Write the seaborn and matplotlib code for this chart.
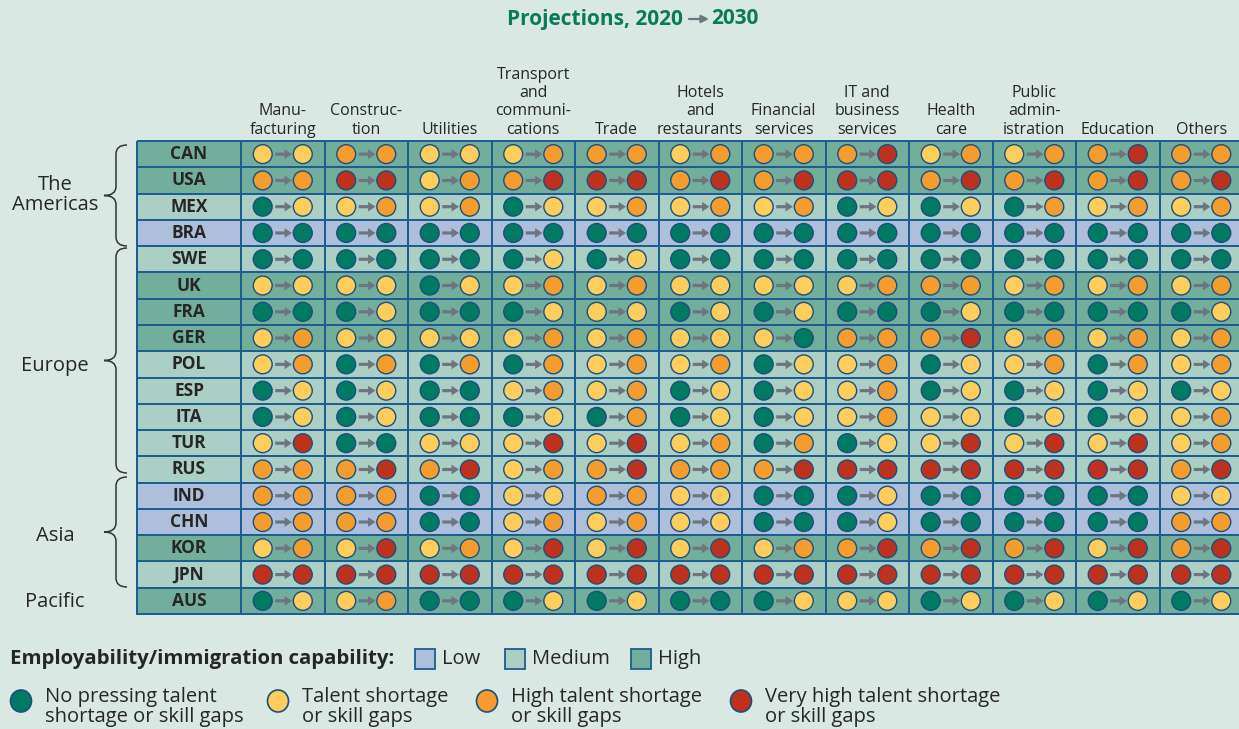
import numpy as np
import pandas as pd
import matplotlib.pyplot as plt
from matplotlib.colors import ListedColormap
from matplotlib.path import Path
from matplotlib.patches import PathPatch, Rectangle, Ellipse, FancyArrowPatch
from matplotlib.transforms import blended_transform_factory
import seaborn as sns

countries = ["CAN", "USA", "MEX", "BRA", "SWE", "UK", "FRA", "GER", "POL",
             "ESP", "ITA", "TUR", "RUS", "IND", "CHN", "KOR", "JPN", "AUS"]
capability = ["High", "High", "Medium", "Low", "Medium", "High", "High", "High", "Medium",
              "Medium", "Medium", "Medium", "Medium", "Low", "Low", "High", "Medium", "High"]
sectors = ["Manu-\nfacturing", "Construc-\ntion", "Utilities", "Transport\nand\ncommuni-\ncations",
           "Trade", "Hotels\nand\nrestaurants", "Financial\nservices", "IT and\nbusiness\nservices",
           "Health\ncare", "Public\nadmin-\nistration", "Education", "Others"]
regions = ["The\nAmericas", "Europe", "Asia", "Pacific"]
region_rows = [(0, 3), (4, 12), (13, 16), (17, 17)]

# G = no pressing shortage, Y = shortage, O = high shortage, R = very high shortage
# one letter per sector, in the order of `sectors`
level_2020 = ["YOYYOYOOYYOO", "ORYOROOROOOO", "GYYGYYYGGGYY", "GGGGGGGGGGGG",
              "GGGGGGGGGGGG", "YYGYYYYYOYYY", "GGGGYGGGGGGG", "YYYYYYYOOYYY",
              "YGGGYYGYGYGY", "GGGYYGGYGGGG", "GGGGGGGYYGGY", "YGYYYYGGYYYY",
              "OOOYOOORRRRO", "OOGYOYGGGGGY", "OOGYYYGGGGGO", "YYYYYYYOOOYO",
              "RRRRRRRRRRRR", "GYGGGGGYGGGG"]
level_2030 = ["YOYOOOOROORO", "ORORRRRRRRRR", "YOOYOOOYYOOO", "GGGGGGGGGGGG",
              "GGGYYGGGGGGG", "YYYOOYYOOOOO", "GYGYYYYGYGGY", "OYYOOYGOROOO",
              "OOOOOOYOYOOO", "YYGOOYYOYYYY", "YYGYOYYOYYYO", "RGYRROOYRRRO",
              "ORRORORRRRRR", "OOGYOYGYGGGY", "OOGOOYGYGGGO", "ORORRRORRRRR",
              "RRRRRRRRRRRR", "YOGYYGYYYYYY"]
level_names = {"G": "No pressing talent\nshortage or skill gaps",
               "Y": "Talent shortage\nor skill gaps",
               "O": "High talent shortage\nor skill gaps",
               "R": "Very high talent shortage\nor skill gaps"}

BG = "#d9e8e2"
CAP_COLORS = {"Low": "#adbfdb", "Medium": "#abcfc5", "High": "#73ad9b"}
DOT_COLORS = {"G": "#007a62", "Y": "#fecd5b", "O": "#f59c2f", "R": "#be311f"}
GRID = "#1d5d8f"
EDGE = "#1b4f7e"
ARROW = "#6e7580"
TXT = "#262626"
GREEN_TXT = "#0a7a5a"

sns.set_theme(style="white")
plt.rcParams["font.family"] = ["Open Sans", "DejaVu Sans"]

W, H = 1239, 729
fig = plt.figure(figsize=(W / 100, H / 100), dpi=100, facecolor=BG)

top_px, bot_px = 141, 614
ax_lab = fig.add_axes([137 / W, 1 - bot_px / H, 104 / W, (bot_px - top_px) / H])
ax = fig.add_axes([241 / W, 1 - bot_px / H, 1002 / W, (bot_px - top_px) / H])

cap_code = {"Low": 0, "Medium": 1, "High": 2}
cap_vals = np.array([cap_code[c] for c in capability])
cmap = ListedColormap([CAP_COLORS["Low"], CAP_COLORS["Medium"], CAP_COLORS["High"]])

grid_df = pd.DataFrame(np.repeat(cap_vals[:, None], len(sectors), axis=1), index=countries)
lab_df = pd.DataFrame(cap_vals[:, None], index=countries)
for a, d in [(ax, grid_df), (ax_lab, lab_df)]:
    sns.heatmap(d, ax=a, cmap=cmap, vmin=-0.5, vmax=2.5, cbar=False, linewidths=1.3,
                linecolor=GRID, xticklabels=False, yticklabels=False)
    a.collections[0].set_clip_on(False)
    a.set_xlabel("")
    a.set_ylabel("")

# dots: 2020 on the left, 2030 on the right of each cell
rows = []
for r, c_name in enumerate(countries):
    for c in range(len(sectors)):
        rows.append({"x": c + 0.5 - 0.24, "y": r + 0.5, "level": level_2020[r][c]})
        rows.append({"x": c + 0.5 + 0.24, "y": r + 0.5, "level": level_2030[r][c]})
dots = pd.DataFrame(rows)
sns.scatterplot(data=dots, x="x", y="y", hue="level", palette=DOT_COLORS,
                hue_order=list(DOT_COLORS), s=185, edgecolor=EDGE, linewidth=1.0,
                legend=False, ax=ax, zorder=3, clip_on=False)

arrow_path = Path([(-1, -0.19), (0.12, -0.19), (0.12, -0.58), (1, 0), (0.12, 0.58),
                   (0.12, 0.19), (-1, 0.19), (-1, -0.19)], closed=True)
arrows = pd.DataFrame({"x": [c + 0.51 for r in range(len(countries)) for c in range(len(sectors))],
                       "y": [r + 0.5 for r in range(len(countries)) for c in range(len(sectors))]})
sns.scatterplot(data=arrows, x="x", y="y", marker=arrow_path, s=145, color=ARROW,
                edgecolor="none", linewidth=0, legend=False, ax=ax, zorder=2)

ax.set_xlim(0, len(sectors))
ax.set_ylim(len(countries), 0)
ax.set_xlabel("")
ax.set_ylabel("")

for r, c_name in enumerate(countries):
    ax_lab.text(0.5, r + 0.5, c_name, ha="center", va="center", fontsize=12.5,
                fontweight="bold", color=TXT)

for c, s_name in enumerate(sectors):
    ax.text(c + 0.5, -0.12, s_name, ha="center", va="bottom", fontsize=11.5,
            color=TXT, linespacing=1.2)

# region labels and braces
trans = blended_transform_factory(fig.transFigure, ax_lab.transData)
for name, (r0, r1) in zip(regions, region_rows):
    ax_lab.text(55 / W, (r0 + r1 + 1) / 2 + 0.05, name, ha="center", va="center",
                fontsize=14.5, color=TXT, transform=trans, linespacing=1.0)


def brace(y0, y1, x_end=127, x_mid=116, x_tip=104, rad=9):
    ym = (y0 + y1) / 2
    pts = [(x_end, y0), (x_mid, y0), (x_mid, y0 + rad), (x_mid, ym - rad), (x_mid, ym),
           (x_tip, ym), (x_mid, ym), (x_mid, ym + rad), (x_mid, y1 - rad), (x_mid, y1),
           (x_end, y1)]
    codes = [Path.MOVETO, Path.CURVE3, Path.CURVE3, Path.LINETO, Path.CURVE3, Path.CURVE3,
             Path.CURVE3, Path.CURVE3, Path.LINETO, Path.CURVE3, Path.CURVE3]
    pts = [(x / W, 1 - y / H) for x, y in pts]
    fig.add_artist(PathPatch(Path(pts, codes), facecolor="none", edgecolor="#333333",
                             lw=1.1, transform=fig.transFigure))


brace(145, 246)
brace(248, 473)
brace(477, 587)

# title
fig.text(683 / W, 1 - 19 / H, "Projections, 2020", ha="right", va="center",
         fontsize=15, fontweight="bold", color=GREEN_TXT)
fig.text(711 / W, 1 - 19 / H, "2030", ha="left", va="center",
         fontsize=15, fontweight="bold", color=GREEN_TXT)
fig.add_artist(FancyArrowPatch(
    (689 / W, 1 - 19 / H), (709 / W, 1 - 19 / H), transform=fig.transFigure,
    arrowstyle="-|>", mutation_scale=11, color=ARROW, lw=1.6, shrinkA=0, shrinkB=0))

# legend: capability
fig.text(10 / W, 1 - 659 / H, "Employability/immigration capability:", ha="left",
         va="center", fontsize=14.7, fontweight="bold", color=TXT)
for name, x_sq in zip(["Low", "Medium", "High"], [415, 505, 631]):
    fig.add_artist(Rectangle((x_sq / W, 1 - 669 / H), 20 / W, 20 / H, facecolor=CAP_COLORS[name],
                             edgecolor=GRID, lw=1.3, transform=fig.transFigure))
    fig.text((x_sq + 27) / W, 1 - 659 / H, name, ha="left", va="center",
             fontsize=14.5, color=TXT)

# legend: dots
for key, x_c in zip(["G", "Y", "O", "R"], [21, 278, 487, 741]):
    fig.add_artist(Ellipse((x_c / W, 1 - 701 / H), 21 / W, 22 / H,
                           facecolor=DOT_COLORS[key], edgecolor=EDGE,
                           lw=1.2, transform=fig.transFigure))
    fig.text((x_c + 24) / W, 1 - 707 / H, level_names[key], ha="left", va="center",
             fontsize=14.5, color=TXT, linespacing=0.95)

fig.savefig("out.png", dpi=100, facecolor=BG)
